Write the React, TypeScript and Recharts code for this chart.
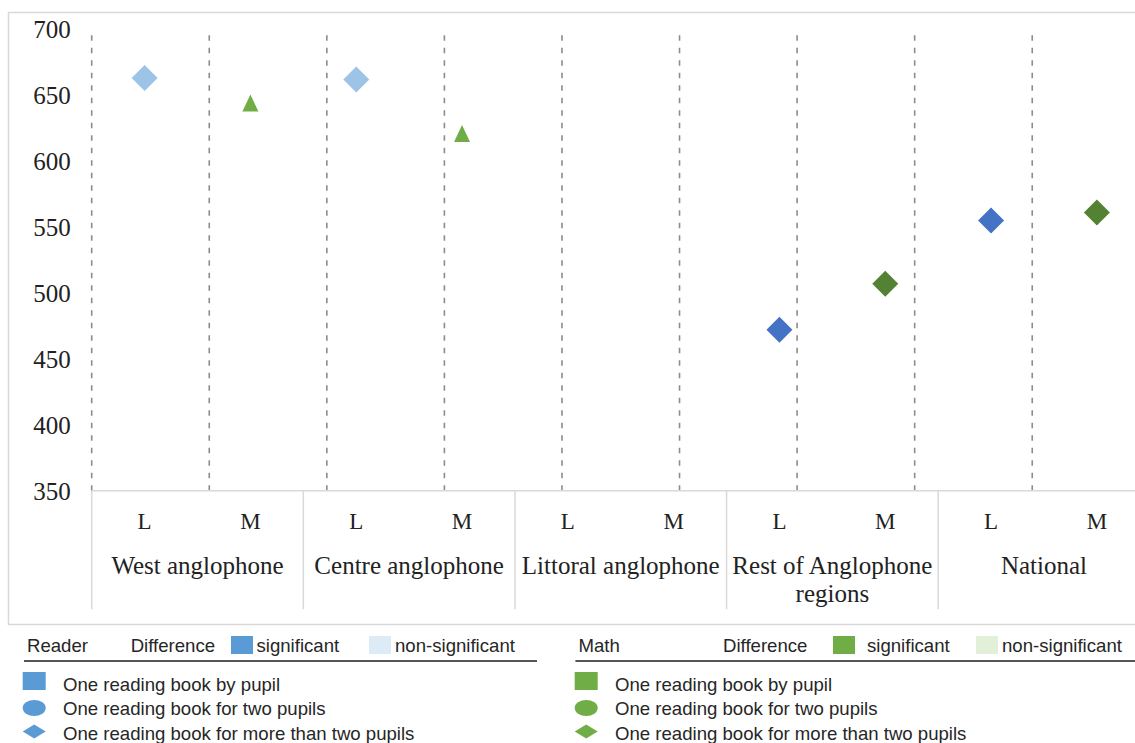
import React from "react";
import { ComposedChart, Scatter, XAxis, YAxis, ReferenceLine } from "recharts";

// regions on the x axis, each split in L (reader) and M (math)
const regions = [
  "West anglophone",
  "Centre anglophone",
  "Littoral anglophone",
  "Rest of Anglophone regions",
  "National",
];
const subjects = ["L", "M"];

// scores (null = no marker)
const readerNonSignificant = [663, 662, null, null, null];
const readerSignificant = [null, null, null, 472, 555];
const mathTriangle = [644, 621, null, null, null];
const mathSignificant = [null, null, null, 507, 561];

const yTicks = [350, 400, 450, 500, 550, 600, 650, 700];

const legendLabels = [
  "One reading book by pupil",
  "One reading book for two pupils",
  "One reading book for more than two pupils",
];

const data = regions.flatMap((region, i) => [
  {
    slot: `${region} ${subjects[0]}`,
    subject: subjects[0],
    region,
    readerNonSig: readerNonSignificant[i],
    readerSig: readerSignificant[i],
  },
  {
    slot: `${region} ${subjects[1]}`,
    subject: subjects[1],
    region,
    mathTri: mathTriangle[i],
    mathSig: mathSignificant[i],
  },
]);

const boundaries = data.map((_, i) => i);

const CHART_W = 1160;
const CHART_H = 625;
const PLOT_LEFT = 91.7;
const PLOT_RIGHT = 1149.8;
const PLOT_TOP = 29.3;
const PLOT_BOTTOM = 490.7;
const HALF_SLOT = (PLOT_RIGHT - PLOT_LEFT) / data.length / 2;

const SERIF = "'Liberation Serif', 'Times New Roman', serif";
const SANS = "'Liberation Sans', Arial, sans-serif";
const TEXT = "#222";

const wrap = (name: string, max = 20) => {
  const lines: string[] = [];
  let cur = "";
  name.split(" ").forEach((w) => {
    const next = cur ? cur + " " + w : w;
    if (next.length > max && cur) {
      lines.push(cur);
      cur = w;
    } else cur = next;
  });
  if (cur) lines.push(cur);
  return lines;
};

const SlotTick = (props: any) => {
  const { x, y, payload } = props;
  const idx = data.findIndex((d) => d.slot === payload.value);
  const row = data[idx];
  if (!row) return null;
  const first = idx % 2 === 0;
  return (
    <g>
      <text
        x={x}
        y={y + 38.6}
        textAnchor="middle"
        fontFamily={SERIF}
        fontSize={23}
        fill={TEXT}
      >
        {row.subject}
      </text>
      {first && (
        <>
          <line
            x1={x - HALF_SLOT}
            x2={x - HALF_SLOT}
            y1={y}
            y2={y + 118.6}
            stroke="#d9d9d9"
            strokeWidth={1.5}
          />
          {wrap(row.region).map((line, k) => (
            <text
              key={k}
              x={x + HALF_SLOT}
              y={y + 83.3 + k * 28}
              textAnchor="middle"
              fontFamily={SERIF}
              fontSize={25}
              fill={TEXT}
            >
              {line}
            </text>
          ))}
        </>
      )}
    </g>
  );
};

const diamond = (color: string) => (props: any) => {
  const { cx, cy } = props;
  if (cx == null || cy == null || isNaN(cy)) return <g />;
  return (
    <polygon
      points={`${cx},${cy - 13} ${cx + 13},${cy} ${cx},${cy + 13} ${cx - 13},${cy}`}
      fill={color}
    />
  );
};

const triangle = (color: string) => (props: any) => {
  const { cx, cy } = props;
  if (cx == null || cy == null || isNaN(cy)) return <g />;
  return (
    <polygon
      points={`${cx},${cy - 8.5} ${cx + 8},${cy + 8.5} ${cx - 8},${cy + 8.5}`}
      fill={color}
    />
  );
};

type LegendProps = {
  x: number;
  title: string;
  diffX: number;
  sigX: number;
  sigTextX: number;
  nonSigX: number;
  lineEnd: number;
  itemX: number;
  textX: number;
  color: string;
  light: string;
};

const LegendBlock = ({
  x,
  title,
  diffX,
  sigX,
  sigTextX,
  nonSigX,
  lineEnd,
  itemX,
  textX,
  color,
  light,
}: LegendProps) => {
  const cx = itemX + 11.5;
  return (
    <g fontFamily={SANS} fontSize={18.6} fill="#262626">
      <text x={x + 3} y={651.7}>
        {title}
      </text>
      <text x={diffX} y={651.7}>
        Difference
      </text>
      <rect x={sigX} y={636} width={22} height={18} fill={color} />
      <text x={sigTextX} y={651.7}>
        significant
      </text>
      <rect x={nonSigX} y={636} width={22} height={18} fill={light} />
      <text x={nonSigX + 26} y={651.7}>
        non-significant
      </text>
      <line x1={x} x2={lineEnd} y1={661} y2={661} stroke="#555" strokeWidth={2} />
      <rect x={itemX} y={672} width={23} height={18} fill={color} />
      <ellipse cx={cx} cy={708} rx={11.5} ry={8} fill={color} />
      <polygon
        points={`${cx},${724.5} ${cx + 11.5},${731.5} ${cx},${738.5} ${cx - 11.5},${731.5}`}
        fill={color}
      />
      {legendLabels.map((label, i) => (
        <text key={label} x={textX} y={690.7 + i * 24.7}>
          {label}
        </text>
      ))}
    </g>
  );
};

export default function App() {
  return (
    <div
      style={{
        position: "fixed",
        left: 0,
        top: 0,
        width: 1135,
        height: 743,
        overflow: "hidden",
        background: "#fff",
      }}
    >
      <div style={{ position: "absolute", left: 0, top: 0 }}>
        <ComposedChart
          width={CHART_W}
          height={CHART_H}
          data={data}
          margin={{
            top: PLOT_TOP,
            right: CHART_W - PLOT_RIGHT,
            left: 0,
            bottom: 0,
          }}
        >
          <XAxis
            dataKey="slot"
            type="category"
            scale="band"
            interval={0}
            height={CHART_H - PLOT_BOTTOM}
            axisLine={{ stroke: "#d9d9d9", strokeWidth: 1.5 }}
            tickLine={false}
            tickSize={0}
            tickMargin={0}
            tick={<SlotTick />}
          />
          <XAxis
            xAxisId="grid"
            type="number"
            domain={[0, data.length]}
            allowDataOverflow
            hide
          />
          <YAxis
            type="number"
            domain={[350, 700]}
            ticks={yTicks}
            width={PLOT_LEFT}
            axisLine={false}
            tickLine={false}
            tickSize={0}
            tickMargin={21}
            tick={{ fontFamily: SERIF, fontSize: 25, fill: TEXT }}
          />
          {boundaries.map((b) => (
            <ReferenceLine
              key={b}
              xAxisId="grid"
              x={b}
              stroke="#8c8c8c"
              strokeWidth={1.6}
              strokeDasharray="5.5 7"
            />
          ))}
          <Scatter
            dataKey="readerNonSig"
            isAnimationActive={false}
            shape={diamond("#9DC3E6")}
          />
          <Scatter
            dataKey="readerSig"
            isAnimationActive={false}
            shape={diamond("#4472C4")}
          />
          <Scatter
            dataKey="mathTri"
            isAnimationActive={false}
            shape={triangle("#70AD47")}
          />
          <Scatter
            dataKey="mathSig"
            isAnimationActive={false}
            shape={diamond("#548235")}
          />
        </ComposedChart>
      </div>
      <svg
        width={1135}
        height={743}
        style={{ position: "absolute", left: 0, top: 0, pointerEvents: "none" }}
      >
        <rect
          x={8.5}
          y={12.5}
          width={1200}
          height={612}
          fill="none"
          stroke="#d9d9d9"
          strokeWidth={1.5}
        />
        <LegendBlock
          x={24}
          title="Reader"
          diffX={130.7}
          sigX={231}
          sigTextX={256.5}
          nonSigX={369}
          lineEnd={537}
          itemX={22.7}
          textX={63}
          color="#5B9BD5"
          light="#DDEBF7"
        />
        <LegendBlock
          x={575.4}
          title="Math"
          diffX={723}
          sigX={833}
          sigTextX={867}
          nonSigX={976}
          lineEnd={1135}
          itemX={574.7}
          textX={615}
          color="#70AD47"
          light="#E2F0D9"
        />
      </svg>
    </div>
  );
}
